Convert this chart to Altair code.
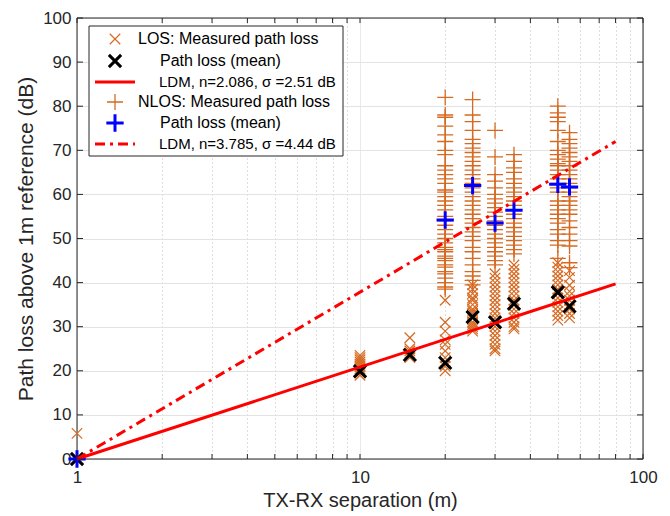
import altair as alt
import pandas as pd

# ---------------- data ----------------
LOS_1 = [0.0, 5.8]
LOS_10 = [23.5, 23.0, 22.5, 22.0, 21.5, 21.0, 20.5, 20.0, 19.5, 19.0]
LOS_15 = [27.5, 25.0, 24.5, 24.0, 23.5, 23.0]
LOS_20 = [36.0, 31.0, 29.0, 27.0, 26.0, 24.5, 23.0, 22.0, 21.0, 20.0]
LOS_25 = [39.5, 38.5, 37.5, 36.5, 36.0, 35.0, 34.0, 33.5, 33.0, 32.0, 31.0, 30.5, 30.0, 29.5, 29.0]
LOS_30 = [42.0, 41.0, 40.0, 39.0, 38.0, 37.0, 36.0, 35.0, 34.0, 33.0, 32.0, 31.0, 30.0, 29.0,
          28.0, 27.0, 26.0, 25.0, 24.5]
LOS_35 = [44.0, 43.0, 42.0, 41.0, 40.0, 39.0, 38.0, 37.0, 36.0, 35.0, 34.0, 33.0, 32.0, 31.0, 30.0, 29.5]
LOS_50 = [44.5, 43.5, 42.5, 41.5, 40.5, 39.5, 38.5, 37.5, 36.5, 35.5, 34.5, 33.5, 32.5, 31.5]
LOS_55 = [42.7, 41.2, 39.4, 38.0, 37.0, 36.0, 35.0, 34.0, 33.0, 32.0]

NLOS_1 = [0.0]
NLOS_20 = [82.0, 78.0, 77.5, 75.5, 73.5, 72.0, 70.0, 69.0, 66.5, 65.5, 64.5, 63.5, 62.5, 61.0,
           60.5, 59.5, 58.5, 57.5, 56.5, 55.0, 54.0, 53.0, 52.0, 51.0, 50.0, 49.0, 48.0, 47.5,
           47.0, 46.0, 45.5, 45.0, 44.0, 43.5, 42.5, 42.0, 41.0, 40.0, 39.0, 38.5]
NLOS_25 = [81.5, 78.0, 76.5, 74.5, 72.5, 71.5, 70.5, 69.5, 68.5, 67.5, 66.5, 65.5, 64.5, 63.5,
           62.5, 61.5, 60.5, 59.5, 58.5, 57.5, 56.5, 55.5, 54.5, 53.5, 52.5, 51.5, 50.5, 49.5,
           48.0, 47.0, 45.5, 44.0, 42.5, 41.5, 40.5, 39.5]
NLOS_30 = [74.5, 68.5, 64.5, 63.0, 61.5, 60.0, 59.0, 58.0, 57.0, 56.0, 55.0, 54.0, 53.0, 52.0,
           51.0, 50.0, 49.0, 48.0, 47.0, 46.0, 45.0, 44.0]
NLOS_35 = [69.0, 67.5, 66.0, 65.0, 63.5, 62.5, 61.5, 60.5, 59.5, 58.5, 57.5, 56.5, 55.5, 54.5,
           53.5, 52.5, 51.5, 50.5, 49.5, 48.5, 47.5, 46.5]
NLOS_50 = [80.0, 78.5, 77.5, 76.5, 74.5, 72.0, 70.0, 69.0, 68.0, 67.0, 66.5, 65.5, 64.5, 63.5,
           62.5, 61.5, 60.5, 58.5, 57.5, 56.5, 55.5, 54.5, 53.5, 52.0, 51.0, 49.5, 48.5, 45.5]
NLOS_55 = [74.0, 72.5, 71.5, 70.5, 69.5, 68.5, 67.5, 66.5, 65.5, 64.5, 63.5, 62.5, 61.5, 60.5,
           59.5, 58.5, 57.5, 56.5, 55.5, 54.0, 52.5, 51.0, 49.5, 48.3, 44.5, 43.4]

LOS_MEAN_D = [1, 10, 15, 20, 25, 30, 35, 50, 55]
LOS_MEAN = [0.0, 19.9, 23.6, 21.8, 32.2, 31.0, 35.2, 37.8, 34.6]
NLOS_MEAN_D = [1, 20, 25, 30, 35, 50, 55]
NLOS_MEAN = [0.0, 54.2, 62.0, 53.5, 56.4, 62.3, 61.7]

LDM_D = [1, 80]
LDM_LOS = [0.0, 39.7]
LDM_NLOS = [0.0, 72.0]

XTICKS = [1, 2, 3, 4, 5, 6, 7, 8, 9, 10, 20, 30, 40, 50, 60, 70, 80, 90, 100]
YTICKS = [0, 10, 20, 30, 40, 50, 60, 70, 80, 90, 100]

LEGEND_LABELS = ["LOS: Measured path loss", "Path loss (mean)", "LDM, n=2.086, σ =2.51 dB",
                 "NLOS: Measured path loss", "Path loss (mean)", "LDM, n=3.785, σ =4.44 dB"]

# ---------------- tables ----------------
los_groups = {1: LOS_1, 10: LOS_10, 15: LOS_15, 20: LOS_20, 25: LOS_25, 30: LOS_30,
              35: LOS_35, 50: LOS_50, 55: LOS_55}
nlos_groups = {1: NLOS_1, 20: NLOS_20, 25: NLOS_25, 30: NLOS_30, 35: NLOS_35,
               50: NLOS_50, 55: NLOS_55}
los_df = pd.DataFrame([{"d": d, "pl": v} for d, vs in los_groups.items() for v in vs])
nlos_df = pd.DataFrame([{"d": d, "pl": v} for d, vs in nlos_groups.items() for v in vs])
los_mean_df = pd.DataFrame({"d": LOS_MEAN_D, "pl": LOS_MEAN})
nlos_mean_df = pd.DataFrame({"d": NLOS_MEAN_D, "pl": NLOS_MEAN})
ldm_los_df = pd.DataFrame({"d": LDM_D, "pl": LDM_LOS})
ldm_nlos_df = pd.DataFrame({"d": LDM_D, "pl": LDM_NLOS})
xt_df = pd.DataFrame({"d": XTICKS})
yt_df = pd.DataFrame({"pl": YTICKS})

# ---------------- styling ----------------
FONT = "Liberation Sans"
TXT = "#262626"
ORANGE = "#D66A22"
X_PATH = "M-1,-1L1,1M-1,1L1,-1"
PLUS_PATH = "M-1,0L1,0M0,-1L0,1"
W, H = 566, 441
DASHDOT = [10, 5, 3, 5]

major_test = "datum.value == 1 || datum.value == 10 || datum.value == 100"
xscale = alt.Scale(type="log", domain=[1, 100], nice=False)
yscale = alt.Scale(domain=[0, 100], nice=False, zero=False)

xaxis = alt.Axis(values=XTICKS, labelExpr="datum.value == 1 ? '1' : datum.value == 10 ? '10' : datum.value == 100 ? '100' : ''",
                 grid=True,
                 gridColor={"condition": {"test": major_test, "value": "#E3E3E3"}, "value": "#BDBDBD"},
                 gridDash={"condition": {"test": major_test, "value": [1, 0]}, "value": [1, 3]},
                 gridWidth=1, ticks=False, domain=False, labelOverlap=False, labelFlush=False,
                 labelFont=FONT, labelFontSize=17, labelColor=TXT, labelPadding=10,
                 title="TX-RX separation (m)", titleFont=FONT, titleFontSize=20,
                 titleFontWeight="normal", titleColor=TXT, titlePadding=5)
yaxis = alt.Axis(values=YTICKS, grid=True, gridColor="#E3E3E3", gridWidth=1, ticks=False,
                 domain=False, labelFont=FONT, labelFontSize=17, labelColor=TXT, labelPadding=6,
                 labelFlush=False, labelOverlap=False,
                 title="Path loss above 1m reference (dB)", titleFont=FONT, titleFontSize=21,
                 titleFontWeight="normal", titleColor=TXT, titlePadding=6)

X = alt.X("d:Q", scale=xscale, axis=xaxis)
Y = alt.Y("pl:Q", scale=yscale, axis=yaxis)
Xn = alt.X("d:Q", scale=xscale)
Yn = alt.Y("pl:Q", scale=yscale)

one = alt.Data(values=[{"k": 1}])

base_grid = alt.Chart(los_mean_df).mark_point(opacity=0).encode(x=X, y=Y)
frame = alt.Chart(one).mark_rect(fill=None, stroke=TXT, strokeWidth=1).encode(
    x=alt.value(0), x2=alt.value(W), y=alt.value(0), y2=alt.value(H))

los_pts = alt.Chart(los_df).mark_point(shape=X_PATH, size=110, filled=False, color=ORANGE,
                                        strokeWidth=1.2, opacity=1).encode(x=Xn, y=Yn)
nlos_pts = alt.Chart(nlos_df).mark_point(shape=PLUS_PATH, size=256, filled=False, color=ORANGE,
                                          strokeWidth=1.3, opacity=1).encode(x=Xn, y=Yn)
los_mean = alt.Chart(los_mean_df).mark_point(shape=X_PATH, size=150, filled=False, color="black",
                                              strokeWidth=3, opacity=1).encode(x=Xn, y=Yn)
nlos_mean = alt.Chart(nlos_mean_df).mark_point(shape=PLUS_PATH, size=300, filled=False, color="#0000FF",
                                                strokeWidth=3, opacity=1).encode(x=Xn, y=Yn)
ldm_los = alt.Chart(ldm_los_df).mark_line(color="#FF0000", strokeWidth=3).encode(x=Xn, y=Yn)
ldm_nlos = alt.Chart(ldm_nlos_df).mark_line(color="#FF0000", strokeWidth=3,
                                            strokeDash=DASHDOT).encode(x=Xn, y=Yn)

# inward ticks (MATLAB style)
tick_style = dict(color=TXT, strokeWidth=1)
xt_bot = alt.Chart(xt_df).mark_rule(**tick_style).encode(x=Xn, y=alt.value(H), y2=alt.value(H - 5))
xt_top = alt.Chart(xt_df).mark_rule(**tick_style).encode(x=Xn, y=alt.value(0), y2=alt.value(5))
yt_left = alt.Chart(yt_df).mark_rule(**tick_style).encode(y=Yn, x=alt.value(0), x2=alt.value(6))
yt_right = alt.Chart(yt_df).mark_rule(**tick_style).encode(y=Yn, x=alt.value(W), x2=alt.value(W - 6))

# legend
ROWS = [21, 43, 64, 84, 105, 126]
leg_box = alt.Chart(one).mark_rect(fill="white", stroke=TXT, strokeWidth=1).encode(
    x=alt.value(12), x2=alt.value(266), y=alt.value(8), y2=alt.value(138))
leg_layers = [leg_box]
leg_layers.append(alt.Chart(one).mark_point(shape=X_PATH, size=110, filled=False, color=ORANGE,
                                            strokeWidth=1.2, opacity=1).encode(x=alt.value(38), y=alt.value(ROWS[0])))
leg_layers.append(alt.Chart(one).mark_point(shape=X_PATH, size=150, filled=False, color="black",
                                            strokeWidth=3, opacity=1).encode(x=alt.value(38), y=alt.value(ROWS[1])))
leg_layers.append(alt.Chart(one).mark_rule(color="#FF0000", strokeWidth=3).encode(
    x=alt.value(18), x2=alt.value(58), y=alt.value(ROWS[2])))
leg_layers.append(alt.Chart(one).mark_point(shape=PLUS_PATH, size=256, filled=False, color=ORANGE,
                                            strokeWidth=1.3, opacity=1).encode(x=alt.value(38), y=alt.value(ROWS[3])))
leg_layers.append(alt.Chart(one).mark_point(shape=PLUS_PATH, size=300, filled=False, color="#0000FF",
                                            strokeWidth=3, opacity=1).encode(x=alt.value(38), y=alt.value(ROWS[4])))
leg_layers.append(alt.Chart(one).mark_rule(color="#FF0000", strokeWidth=3, strokeDash=DASHDOT).encode(
    x=alt.value(18), x2=alt.value(58), y=alt.value(ROWS[5])))
TEXT_X = [61, 83, 82, 61, 83, 82]
TEXT_SIZE = [16, 16, 15, 16, 16, 15]
for lab, tx, ty, fs in zip(LEGEND_LABELS, TEXT_X, ROWS, TEXT_SIZE):
    leg_layers.append(alt.Chart(one).mark_text(align="left", baseline="middle", font=FONT,
                                               fontSize=fs, color="black").encode(
        x=alt.value(tx), y=alt.value(ty), text=alt.value(lab)))

chart = alt.layer(base_grid, frame, los_pts, nlos_pts, los_mean, nlos_mean, ldm_los, ldm_nlos,
                  xt_bot, xt_top, yt_left, yt_right, *leg_layers).properties(
    width=W, height=H,
    autosize=alt.AutoSizeParams(type="none"),
    padding={"left": 69, "top": 10, "right": 15, "bottom": 56},
).configure_view(stroke=TXT, strokeWidth=1).configure(background="white")

chart.save("out.html", embed_options={"renderer": "svg", "actions": False})
